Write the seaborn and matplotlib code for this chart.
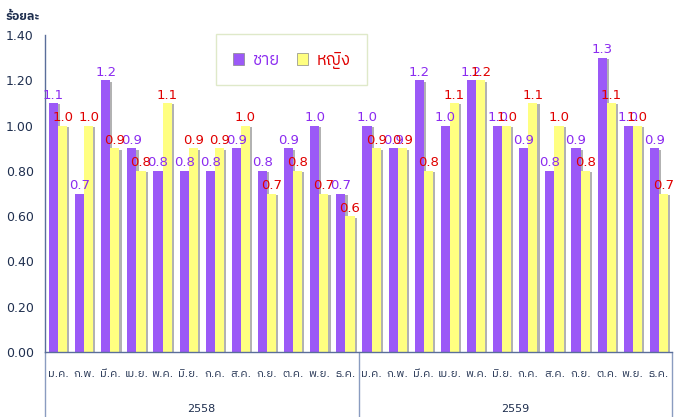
import matplotlib
matplotlib.use("Agg")
import matplotlib.pyplot as plt
import matplotlib.patheffects as pe
import matplotlib.font_manager as fm
from matplotlib.patches import Patch
import seaborn as sns
import pandas as pd
import numpy as np

months = ["ม.ค.", "ก.พ.", "มี.ค.", "เม.ย.", "พ.ค.", "มิ.ย.",
          "ก.ค.", "ส.ค.", "ก.ย.", "ต.ค.", "พ.ย.", "ธ.ค."]
years = ["2558", "2559"]
series = ["ชาย", "หญิง"]
male = [1.1, 0.7, 1.2, 0.9, 0.8, 0.8, 0.8, 0.9, 0.8, 0.9, 1.0, 0.7,
        1.0, 0.9, 1.2, 1.0, 1.2, 1.0, 0.9, 0.8, 0.9, 1.3, 1.0, 0.9]
female = [1.0, 1.0, 0.9, 0.8, 1.1, 0.9, 0.9, 1.0, 0.7, 0.8, 0.7, 0.6,
          0.9, 0.9, 0.8, 1.1, 1.2, 1.0, 1.1, 1.0, 0.8, 1.1, 1.0, 0.7]

bar_colors = ["#9B59F7", "#FFFF80"]
label_colors = ["#8B2BF0", "#E00000"]
text_color = "#1F2F4F"

sns.set_style("white")
thai = sorted(set(f.name for f in fm.fontManager.ttflist if "Thai" in f.name))
plt.rcParams["font.family"] = ["DejaVu Sans"] + thai

n = len(male)
df = pd.DataFrame({
    "pos": list(range(n)) * 2,
    "sex": [series[0]] * n + [series[1]] * n,
    "value": male + female,
})

fig = plt.figure(figsize=(6.76, 4.17), dpi=100)
ax = fig.add_axes([45 / 676, 65 / 417, 627 / 676, 317 / 417])
sns.barplot(data=df, x="pos", y="value", hue="sex", hue_order=series,
            palette=bar_colors, width=0.7, ax=ax, legend=False,
            edgecolor="none", saturation=1)

for p in ax.patches:
    p.set_path_effects([pe.SimplePatchShadow(offset=(1.5, -1.0), shadow_rgbFace="#808080", alpha=0.6),
                        pe.Normal()])

for cont, col in zip(ax.containers, label_colors):
    ax.bar_label(cont, labels=[f"{v:.1f}" for v in cont.datavalues],
                 color=col, fontsize=9.5, padding=1)

yt = np.arange(0, 1.41, 0.2)
ax.set_ylim(0, 1.4)
ax.set_xlim(-0.5, n - 0.5)
ax.set_yticks(yt)
ax.set_yticklabels([f"{v:.2f}" for v in yt], fontsize=9, color=text_color)
ax.set_xticks(range(n))
ax.set_xticklabels(months * 2, fontsize=8, color=text_color)
ax.tick_params(axis="x", length=0, pad=12)
ax.tick_params(axis="y", length=0, pad=8)
ax.set_xlabel("")
ax.set_ylabel("")
for s in ["top", "right"]:
    ax.spines[s].set_visible(False)
for s in ["left", "bottom"]:
    ax.spines[s].set_color("#5A6E9A")
    ax.spines[s].set_linewidth(1)

# year group separators and labels
trans = ax.get_xaxis_transform()
for xb in [-0.5, 11.5, 23.5]:
    ax.plot([xb, xb], [0, -0.21], transform=trans, color="#8A9CC0",
            lw=1, clip_on=False)
for i, yr in enumerate(years):
    ax.text(i * 12 + 5.5, -0.18, yr, transform=trans, ha="center",
            va="center", fontsize=8, color=text_color)

fig.text(5 / 676, 1 - 17 / 417, "ร้อยละ", fontsize=9, color=text_color,
         ha="left", va="center", fontweight="bold")

# legend
handles = [Patch(facecolor=c, edgecolor="#888888", lw=0.5) for c in bar_colors]
leg = ax.legend(handles, series, loc="upper left",
                bbox_to_anchor=(171 / 627, 1.0 + 1 / 317), borderaxespad=0,
                ncol=2, frameon=True, fontsize=12, handlelength=0.7,
                handleheight=0.7, borderpad=1.0, columnspacing=1.0,
                handletextpad=0.5, fancybox=False)
leg.get_frame().set_edgecolor("#D8E4BC")
leg.get_frame().set_linewidth(1)
for t, c in zip(leg.get_texts(), label_colors):
    t.set_color(c)

fig.savefig("out.png", dpi=100)
